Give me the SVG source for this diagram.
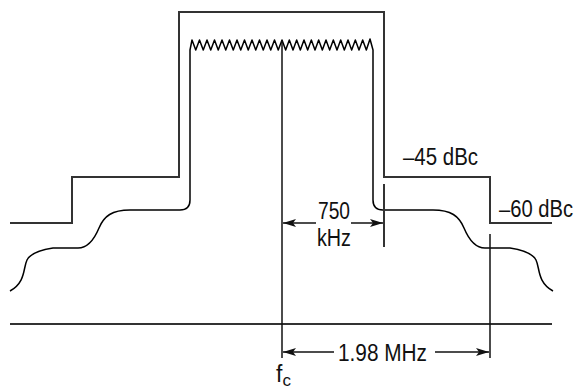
<svg xmlns="http://www.w3.org/2000/svg" width="579" height="391" viewBox="0 0 579 391">
<style>
.mask{fill:none;stroke:#333;stroke-width:2}
.sp{fill:none;stroke:#000;stroke-width:1.5;stroke-linejoin:round}
.mk{fill:none;stroke:#111;stroke-width:1.5}
.lbl{font-family:"Liberation Sans",Arial,sans-serif;font-size:23px;fill:#111}
</style>
<defs>
<marker id="ah" viewBox="0 0 13 8" refX="13" refY="4" markerWidth="13" markerHeight="8" markerUnits="userSpaceOnUse" orient="auto">
<path d="M0,0 L13,4 L0,8 L3,4 Z" fill="#111"/>
</marker>
</defs>
<rect width="579" height="391" fill="#fff"/>
<g id="mask">
<path class="mask" d="M10,223 H72 V177 H179 V12 H384 V177 H490 V223 H552"/>
</g>
<g id="spectrum">
<path class="sp" d="M10,291 C26,282 23,268 27,260 C30,254 40,250 53,248 H78 C88,248 94,240 99,228 C104,216 112,210 130,210 H180 Q190,210 190,200 V50 L192,40 L195.75,50 L199.5,40 L203.25,50 L207,40 L210.75,50 L214.5,40 L218.25,50 L222,40 L225.75,50 L229.5,40 L233.25,50 L237,40 L240.75,50 L244.5,40 L248.25,50 L252,40 L255.75,50 L259.5,40 L263.25,50 L267,40 L270.75,50 L274.5,40 L278.25,50 L282,40 L285.67,50 L289.33,40 L293,50 L296.67,40 L300.33,50 L304,40 L307.67,50 L311.33,40 L315,50 L318.67,40 L322.33,50 L326,40 L329.67,50 L333.33,40 L337,50 L340.67,40 L344.33,50 L348,40 L351.67,50 L355.33,40 L359,50 L362.67,40 L366.33,50 L370,39 L373,50 V200 Q373,210 383,210 H433 C451,210 459,216 464,228 C469,240 475,248 485,248 H510 C523,250 533,254 536,260 C540,268 537,282 553,291"/>
</g>
<g id="baseline">
<line x1="10" y1="324" x2="552" y2="324" stroke="#333" stroke-width="2"/>
</g>
<g id="connectors">
<line class="mk" x1="282" y1="40" x2="282" y2="358"/>
<line x1="384" y1="184" x2="384" y2="247" stroke="#333" stroke-width="2"/>
<line class="mk" x1="490" y1="234" x2="490" y2="358"/>
<line class="mk" x1="316" y1="223" x2="283" y2="223" marker-end="url(#ah)"/>
<line class="mk" x1="351" y1="223" x2="383" y2="223" marker-end="url(#ah)"/>
<line class="mk" x1="334" y1="352" x2="283" y2="352" marker-end="url(#ah)"/>
<line class="mk" x1="435" y1="352" x2="489" y2="352" marker-end="url(#ah)"/>
</g>
<g id="labels">
<text class="lbl" x="403" y="165" textLength="75" lengthAdjust="spacingAndGlyphs">–45 dBc</text>
<text class="lbl" x="499" y="217" textLength="74" lengthAdjust="spacingAndGlyphs">–60 dBc</text>
<text class="lbl" x="318" y="219" textLength="32" lengthAdjust="spacingAndGlyphs">750</text>
<text class="lbl" x="317" y="246" textLength="34" lengthAdjust="spacingAndGlyphs">kHz</text>
<text class="lbl" x="338" y="361" textLength="89" lengthAdjust="spacingAndGlyphs">1.98 MHz</text>
<text class="lbl" x="276" y="382">f<tspan font-size="17" dy="4">c</tspan></text>
</g>
</svg>
